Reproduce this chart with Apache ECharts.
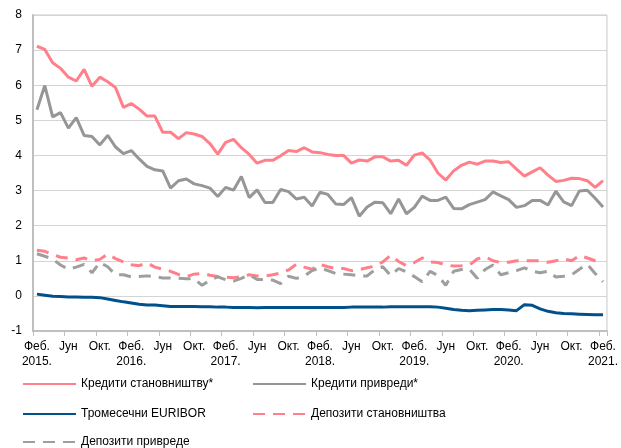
<!DOCTYPE html>
<html>
<head>
<meta charset="utf-8">
<script src="https://cdn.jsdelivr.net/npm/echarts@6/dist/echarts.min.js"></script>
<style>
  html, body { margin: 0; padding: 0; background: #fff; }
  #chart { width: 621px; height: 448px; }
</style>
</head>
<body>
<div id="chart"></div>
<script>
// месеци: фебруар 2015 - фебруар 2021
var months = [];
for (var y = 2015; y <= 2021; y++) {
    for (var m = 1; m <= 12; m++) {
        if ((y == 2015 && m < 2) || (y == 2021 && m > 2)) continue;
        months.push(y + '-' + (m < 10 ? '0' + m : m));
    }
}

// натписи на x оси, сваки четврти месец
var tickLabels = [
    'Феб.\n2015.', 'Јун', 'Окт.', 'Феб.\n2016.', 'Јун', 'Окт.', 'Феб.\n2017.', 'Јун', 'Окт.',
    'Феб.\n2018.', 'Јун', 'Окт.', 'Феб.\n2019.', 'Јун', 'Окт.', 'Феб.\n2020.', 'Јун', 'Окт.', 'Феб.\n2021.'
];

var kreditiStanovnistvu = [
    7.11, 7.02, 6.64, 6.48, 6.23, 6.12, 6.45, 5.97, 6.23, 6.10, 5.93, 5.37,
    5.48, 5.32, 5.12, 5.12, 4.66, 4.66, 4.48, 4.65, 4.61, 4.54, 4.34, 4.04,
    4.37, 4.46, 4.22, 4.03, 3.78, 3.86, 3.86, 3.99, 4.14, 4.11, 4.22, 4.10,
    4.08, 4.03, 4.00, 4.00, 3.78, 3.87, 3.84, 3.96, 3.96, 3.84, 3.86, 3.72,
    4.01, 4.07, 3.87, 3.50, 3.30, 3.56, 3.72, 3.81, 3.75, 3.84, 3.84, 3.80,
    3.82, 3.61, 3.41, 3.53, 3.65, 3.44, 3.26, 3.29, 3.35, 3.34, 3.28, 3.09,
    3.28
];

var kreditiPrivredi = [
    5.30, 5.99, 5.10, 5.22, 4.78, 5.08, 4.57, 4.54, 4.30, 4.57, 4.24, 4.05,
    4.14, 3.90, 3.69, 3.59, 3.56, 3.07, 3.28, 3.33, 3.19, 3.14, 3.07, 2.83,
    3.09, 3.01, 3.40, 2.80, 3.02, 2.66, 2.66, 3.03, 2.97, 2.76, 2.81, 2.56,
    2.95, 2.89, 2.62, 2.60, 2.80, 2.27, 2.53, 2.67, 2.65, 2.34, 2.76, 2.34,
    2.52, 2.84, 2.72, 2.72, 2.81, 2.49, 2.48, 2.60, 2.67, 2.74, 2.96, 2.85,
    2.74, 2.52, 2.57, 2.72, 2.72, 2.59, 2.98, 2.68, 2.57, 2.99, 3.01, 2.78,
    2.53
];

var euribor = [
    0.05, 0.02, -0.01, -0.02, -0.03, -0.03, -0.04, -0.04, -0.05, -0.09, -0.13, -0.17,
    -0.20, -0.24, -0.26, -0.26, -0.28, -0.30, -0.30, -0.30, -0.30, -0.31, -0.31, -0.32,
    -0.32, -0.33, -0.33, -0.33, -0.34, -0.33, -0.33, -0.33, -0.33, -0.33, -0.33, -0.33,
    -0.33, -0.33, -0.33, -0.33, -0.32, -0.32, -0.32, -0.32, -0.32, -0.31, -0.31, -0.31,
    -0.31, -0.31, -0.31, -0.32, -0.35, -0.39, -0.41, -0.42, -0.41, -0.40, -0.39, -0.39,
    -0.40, -0.42, -0.25, -0.27, -0.37, -0.44, -0.48, -0.50, -0.51, -0.52, -0.53, -0.54,
    -0.54
];

var depozitiStanovnistva = [
    1.30, 1.27, 1.18, 1.10, 1.08, 1.03, 1.08, 1.00, 1.04, 1.19, 1.06, 0.97,
    0.89, 0.86, 0.94, 0.82, 0.76, 0.70, 0.61, 0.55, 0.62, 0.64, 0.59, 0.55,
    0.53, 0.52, 0.55, 0.60, 0.57, 0.57, 0.60, 0.65, 0.74, 0.90, 0.82, 0.76,
    0.90, 0.83, 0.78, 0.78, 0.72, 0.75, 0.80, 0.85, 0.97, 1.16, 0.98, 0.86,
    0.95, 1.08, 0.97, 0.95, 0.88, 0.85, 0.86, 0.88, 1.05, 1.12, 1.00, 0.95,
    0.96, 1.00, 1.00, 1.00, 1.00, 0.96, 1.00, 1.05, 1.00, 1.15, 1.08, 1.00,
    0.95
];

var depozitiPrivrede = [
    1.20, 1.13, 1.05, 0.88, 0.76, 0.82, 0.90, 0.66, 0.95, 0.83, 0.60, 0.60,
    0.54, 0.55, 0.57, 0.55, 0.51, 0.51, 0.50, 0.49, 0.49, 0.30, 0.45, 0.54,
    0.46, 0.42, 0.50, 0.60, 0.47, 0.47, 0.45, 0.35, 0.56, 0.50, 0.56, 0.72,
    0.80, 0.72, 0.64, 0.62, 0.60, 0.57, 0.57, 0.75, 0.83, 0.58, 0.78, 0.68,
    0.55, 0.40, 0.70, 0.58, 0.30, 0.70, 0.75, 0.76, 0.50, 0.75, 0.88, 0.60,
    0.66, 0.72, 0.80, 0.70, 0.66, 0.70, 0.54, 0.56, 0.60, 0.76, 0.90, 0.64,
    0.40
];

var font = 'Arial, "Liberation Sans", sans-serif';
var chart = echarts.init(document.getElementById('chart'));

function legendItem(name, left, top) {
    return {
        data: [name],
        left: left,
        top: top,
        padding: 0,
        itemWidth: 53,
        itemHeight: 12,
        itemGap: 5,
        itemStyle: { opacity: 0 },
        textStyle: { fontFamily: font, fontSize: 12, color: '#000', padding: [0, 0, 0, 0] }
    };
}

function lineSeries(name, data, color, dashed) {
    return {
        name: name,
        type: 'line',
        data: data,
        showSymbol: false,
        symbol: 'none',
        lineStyle: { color: color, width: 3, type: dashed ? [12, 8] : 'solid' },
        itemStyle: { color: color },
        animation: false
    };
}

var option = {
    backgroundColor: '#fff',
    animation: false,
    grid: {
        left: 33, right: 10, top: 15, bottom: 117,
        show: true, borderColor: '#c8c8c8', borderWidth: 1
    },
    legend: [
        legendItem('Кредити становништву*', 22, 378),
        legendItem('Кредити привреди*', 252, 378),
        legendItem('Тромесечни EURIBOR', 22, 408),
        legendItem('Депозити становништва', 252, 408),
        legendItem('Депозити привреде', 22, 436)
    ],
    xAxis: {
        type: 'category',
        data: months,
        boundaryGap: true,
        axisLine: { onZero: false, lineStyle: { color: '#bfbfbf', width: 2 } },
        axisTick: { show: true, interval: 3, length: 5, lineStyle: { color: '#bfbfbf', width: 1 } },
        axisLabel: {
            interval: 3,
            fontFamily: font,
            fontSize: 12,
            color: '#000',
            lineHeight: 15,
            margin: 8,
            formatter: function (value, idx) {
                return tickLabels[idx / 4];
            }
        },
        splitLine: { show: false }
    },
    yAxis: {
        type: 'value',
        min: -1,
        max: 8,
        interval: 1,
        axisLine: { show: true, lineStyle: { color: '#bfbfbf', width: 2 } },
        axisTick: { show: false },
        axisLabel: { fontFamily: font, fontSize: 12, color: '#000', margin: 11 },
        splitLine: { lineStyle: { color: '#d4d4d4', width: 1 } }
    },
    series: [
        lineSeries('Кредити становништву*', kreditiStanovnistvu, '#ff808a', false),
        lineSeries('Кредити привреди*', kreditiPrivredi, '#969696', false),
        lineSeries('Тромесечни EURIBOR', euribor, '#00508c', false),
        lineSeries('Депозити становништва', depozitiStanovnistva, '#ff808a', true),
        lineSeries('Депозити привреде', depozitiPrivrede, '#9e9e9e', true)
    ]
};

chart.setOption(option);
</script>
</body>
</html>
